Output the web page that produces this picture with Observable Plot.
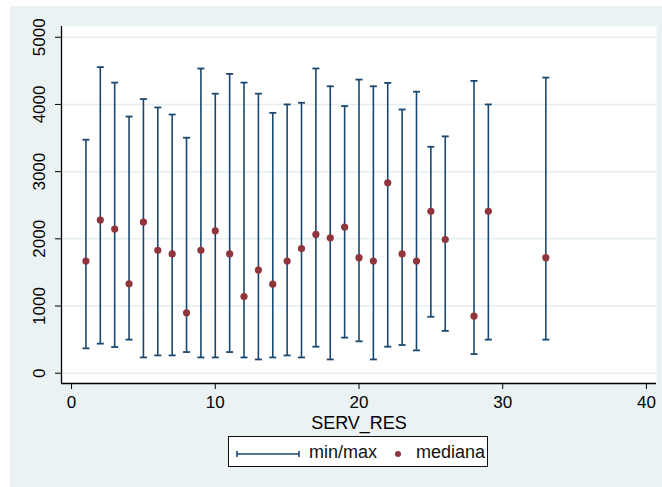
<!DOCTYPE html>
<html>
<head>
<meta charset="utf-8">
<script src="https://cdn.jsdelivr.net/npm/d3@7"></script>
<script src="https://cdn.jsdelivr.net/npm/@observablehq/plot@0.6"></script>
<style>
  html, body { margin: 0; padding: 0; background: #fff; }
  #wrap { position: relative; width: 662px; height: 487px; overflow: hidden; background: #fff;
          font-family: "Liberation Sans", Arial, sans-serif; }
  #panel { position: absolute; left: 10px; top: 6px; right: 0; bottom: 0; background: #EAF2F3; }
  #chart { position: absolute; left: 0; top: 0; }
  #legend { position: absolute; left: 228px; top: 436px; width: 260px; height: 31px; box-sizing: border-box;
            border: 1.5px solid #111; background: #fff; overflow: hidden; }
  #legend span { position: absolute; top: 4px; font-size: 18px; line-height: 22px; color: #111; white-space: nowrap; }
  #legend svg { position: absolute; left: 0; top: 0; }
</style>
</head>
<body>
<div id="wrap">
  <div id="panel"></div>
  <div id="chart"></div>
  <div id="legend"></div>
</div>
<script>
// SERV_RES categories
const servRes = [1,2,3,4,5,6,7,8,9,10,11,12,13,14,15,16,17,18,19,20,21,22,23,24,25,26,28,29,33];
const minVals = [370,440,390,500,235,265,265,315,235,235,315,235,205,235,265,235,395,205,530,475,205,395,420,340,840,630,285,500,500];
const maxVals = [3475,4555,4325,3820,4080,3955,3850,3505,4535,4160,4455,4325,4160,3875,4000,4025,4535,4270,3975,4370,4270,4320,3925,4190,3370,3525,4350,4000,4400];
const medianVals = [1670,2280,2145,1330,2250,1830,1775,900,1830,2120,1775,1140,1535,1325,1670,1855,2065,2015,2175,1720,1670,2835,1775,1670,2410,1990,850,2410,1720];
const yTicks = [0,1000,2000,3000,4000,5000];
const xTicks = [0,10,20,30,40];
const xTitle = "SERV_RES";
const legendLabels = ["min/max", "mediana"];

const data = servRes.map((x, i) => ({x, min: minVals[i], max: maxVals[i], med: medianVals[i]}));

const navy = "#1a476f";
const maroon = "#90353b";
const xDomain = [-0.7, 40.7];
const yDomain = [-153, 5160];

// horizontal cap symbol for the range bars
const cap = { draw(ctx) { ctx.moveTo(-3.5, 0); ctx.lineTo(3.5, 0); } };

const chart = Plot.plot({
  width: 662,
  height: 487,
  marginLeft: 61,
  marginRight: 6,
  marginTop: 26,
  marginBottom: 104,
  style: { background: "transparent", fontFamily: "'Liberation Sans', Arial, sans-serif", fontSize: "17px", color: "#000", overflow: "visible" },
  x: { domain: xDomain, axis: null },
  y: { domain: yDomain, axis: null },
  marks: [
    Plot.frame({ fill: "white", stroke: null }),
    Plot.ruleY(yTicks, { stroke: "#E4EDF0", strokeWidth: 1.5 }),
    Plot.ruleX(data, { x: "x", y1: "min", y2: "max", stroke: navy, strokeWidth: 1.6 }),
    Plot.dot(data, { x: "x", y: "max", symbol: cap, stroke: navy, strokeWidth: 1.8, fill: "none" }),
    Plot.dot(data, { x: "x", y: "min", symbol: cap, stroke: navy, strokeWidth: 1.8, fill: "none" }),
    Plot.dot(data, { x: "x", y: "med", r: 3.6, fill: maroon, stroke: null }),
    Plot.ruleX([xDomain[0]], { stroke: "#000", strokeWidth: 1.3 }),
    Plot.ruleY([yDomain[0]], { stroke: "#000", strokeWidth: 1.3 }),
    Plot.axisY({ ticks: yTicks, tickFormat: d => String(d), tickSize: 6, tickPadding: 11, tickRotate: -90, fontSize: 17, label: null, stroke: "#000" }),
    Plot.axisX({ ticks: xTicks, tickFormat: d => String(d), tickSize: 6, tickPadding: 6, fontSize: 17, label: null, stroke: "#000" }),
    Plot.text([xTitle], { frameAnchor: "bottom", dy: 40, lineAnchor: "middle", fontSize: 18, fill: "#000" })
  ]
});
document.getElementById("chart").appendChild(chart);

// legend
const leg = document.getElementById("legend");
leg.innerHTML = `
  <svg width="260" height="31">
    <line x1="8" y1="17" x2="70" y2="17" stroke="${navy}" stroke-width="1.6"/>
    <line x1="8" y1="14" x2="8" y2="20" stroke="${navy}" stroke-width="1.6"/>
    <line x1="70" y1="14" x2="70" y2="20" stroke="${navy}" stroke-width="1.6"/>
    <circle cx="169" cy="17" r="3" fill="${maroon}"/>
  </svg>
  <span style="left:80px">${legendLabels[0]}</span>
  <span style="left:187px">${legendLabels[1]}</span>`;
</script>
</body>
</html>
